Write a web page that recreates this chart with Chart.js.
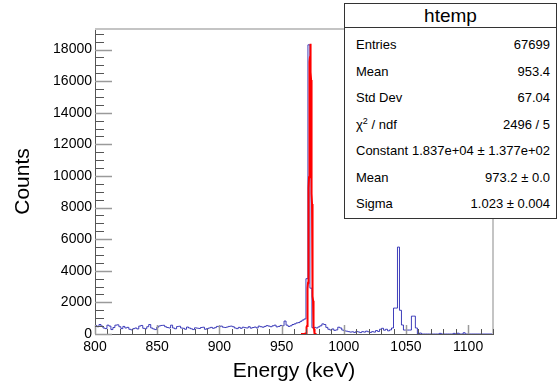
<!DOCTYPE html>
<html>
<head>
<meta charset="utf-8">
<title>htemp</title>
<script src="https://cdn.jsdelivr.net/npm/chart.js@4.4.1/dist/chart.umd.min.js"></script>
<style>
  body { margin: 0; background: #fff; }
  #wrap { position: relative; width: 558px; height: 392px; }
  #stats {
    position: absolute; left: 344px; top: 3px; width: 213px; height: 216px;
    box-sizing: border-box; border: 1px solid #333; background: #fff;
    font-family: "Liberation Sans", Arial, sans-serif; color: #000;
  }
  #stats .title {
    height: 23px; line-height: 24px; border-bottom: 1px solid #333;
    text-align: center; font-size: 19px;
  }
  #stats .rows { padding-top: 4px; }
  #stats .row {
    display: flex; justify-content: space-between;
    height: 26.5px; line-height: 26.5px; font-size: 13px;
    padding: 0 6px 0 11px;
  }
  #stats sup { font-size: 9px; line-height: 0; }
</style>
</head>
<body>
<div id="wrap">
  <canvas id="chart" width="558" height="392"></canvas>
  <div id="stats">
    <div class="title">htemp</div>
    <div class="rows">
      <div class="row"><span>Entries</span><span>67699</span></div>
      <div class="row"><span>Mean</span><span>953.4</span></div>
      <div class="row"><span>Std Dev</span><span>67.04</span></div>
      <div class="row"><span>&chi;<sup>2</sup> / ndf</span><span>2496 / 5</span></div>
      <div class="row"><span>Constant</span><span>1.837e+04 &plusmn; 1.377e+02</span></div>
      <div class="row"><span>Mean</span><span>973.2 &plusmn; 0.0</span></div>
      <div class="row"><span>Sigma</span><span>1.023 &plusmn; 0.004</span></div>
    </div>
  </div>
</div>
<script>
// histogram binning (keV): 200 bins between 800 and 1120
const binLow = 800;
const binWidth = 1.6;
const xMin = 800, xMax = 1120;
const yMax = 19300;

// counts per bin, 800 -> 1120 keV
const counts = [
  380, 540, 460, 600, 500, 380, 340, 560, 500, 280,
  410, 560, 580, 460, 340, 480, 380, 420, 300, 260,
  340, 380, 320, 500, 540, 360, 330, 460, 600, 380,
  320, 280, 430, 510, 540, 550, 460, 410, 380, 560,
  380, 330, 470, 490, 380, 360, 300, 440, 380, 330,
  280, 390, 370, 350, 410, 430, 300, 340, 380, 420,
  360, 400, 480, 460, 500, 430, 410, 440, 480, 500,
  460, 380, 340, 420, 360, 430, 400, 380, 460, 370,
  410, 440, 380, 500, 460, 430, 480, 530, 500, 460,
  520, 560, 450, 480, 540, 520, 820, 560, 480, 520,
  600, 640, 700, 720, 800, 880, 950, 3500, 18300, 2900,
  400, 420, 380, 450, 520, 640, 600, 420, 300, 250,
  320, 230, 260, 430, 380, 250, 200, 180, 150, 120,
  140, 100, 160, 130, 90, 150, 120, 180, 140, 100,
  150, 120, 220, 160, 300, 360, 240, 300, 200, 260,
  380, 1640, 1640, 5500, 1500, 570, 250, 250, 250, 250,
  1130, 1130, 380, 0, 60, 0, 0, 0, 0, 0,
  0, 0, 0, 0, 40, 0, 0, 0, 0, 0,
  0, 40, 0, 50, 0, 0, 80, 0, 0, 0,
  0, 0, 0, 0, 0, 0, 0, 0, 0, 0
];

// gaus fit result
const fitConstant = 1.837e4;
const fitMean = 973.2;
const fitSigma = 1.023;
const fitRange = [965.6, 978.4];

// axis divisions: labelled every 50 keV / 2000 counts, small ticks in between
const xTickValues = [];
for (let v = xMin; v <= xMax; v += 10) xTickValues.push(v);
const yTickValues = [];
for (let v = 0; v <= 19000; v += 500) yTickValues.push(v);

// outline of the histogram: rise from 0 at the first edge, fall back at the last
const histPoints = [{ x: binLow, y: 0 }];
counts.forEach((c, i) => histPoints.push({ x: binLow + i * binWidth, y: c }));
histPoints.push({ x: binLow + counts.length * binWidth, y: 0 });

// fitted gaussian sampled over the fit range
const fitPoints = [];
const nSamples = 200;
for (let i = 0; i <= nSamples; i++) {
  const e = fitRange[0] + (fitRange[1] - fitRange[0]) * i / nSamples;
  const d = (e - fitMean) / fitSigma;
  fitPoints.push({ x: e, y: fitConstant * Math.exp(-0.5 * d * d) });
}

// ROOT style ticks pointing into the frame, plus the light top/right frame
const frameTicks = {
  id: 'frameTicks',
  afterDatasetsDraw(chart) {
    const { ctx, chartArea: a, scales: { x, y } } = chart;
    ctx.save();
    ctx.strokeStyle = '#c4c4c4';
    ctx.lineWidth = 2;
    ctx.beginPath();
    ctx.moveTo(a.left, a.top);
    ctx.lineTo(a.right, a.top);
    ctx.lineTo(a.right, a.bottom);
    ctx.stroke();

    x.ticks.forEach(t => {
      const major = t.value % 50 === 0;
      const px = Math.round(x.getPixelForValue(t.value)) + 0.5;
      ctx.strokeStyle = major ? '#9a9a9a' : '#555';
      ctx.lineWidth = major ? 1.5 : 1;
      ctx.beginPath();
      ctx.moveTo(px, a.bottom);
      ctx.lineTo(px, a.bottom - (major ? 9 : 5));
      ctx.stroke();
    });
    y.ticks.forEach(t => {
      const major = t.value % 2000 === 0;
      const py = Math.round(y.getPixelForValue(t.value)) + 0.5;
      ctx.strokeStyle = major ? '#9a9a9a' : '#555';
      ctx.lineWidth = major ? 1.5 : 1;
      ctx.beginPath();
      ctx.moveTo(a.left, py);
      ctx.lineTo(a.left + (major ? 17 : 9), py);
      ctx.stroke();
    });
    ctx.restore();
  }
};

Chart.defaults.font.family = "'Liberation Sans', Arial, sans-serif";
Chart.defaults.color = '#000';

new Chart(document.getElementById('chart'), {
  type: 'line',
  data: {
    datasets: [
      {
        label: 'gaus',
        data: fitPoints,
        borderColor: '#ff0000',
        borderWidth: 2,
        pointRadius: 0,
        tension: 0,
        order: 0
      },
      {
        label: 'htemp',
        data: histPoints,
        stepped: 'after',
        borderColor: 'rgba(30, 30, 175, 0.85)',
        borderWidth: 1,
        pointRadius: 0,
        fill: false,
        order: 1
      }
    ]
  },
  options: {
    responsive: false,
    animation: false,
    devicePixelRatio: 1,
    layout: { padding: { left: 0, top: 29, right: 65, bottom: 0 } },
    plugins: {
      legend: { display: false },
      tooltip: { enabled: false }
    },
    scales: {
      x: {
        type: 'linear',
        min: xMin,
        max: xMax,
        afterBuildTicks(scale) { scale.ticks = xTickValues.map(v => ({ value: v })); },
        afterFit(scale) { scale.height = 58; },
        grid: { display: false, drawTicks: false },
        border: { display: true, color: '#555', width: 1 },
        ticks: {
          autoSkip: false,
          maxRotation: 0,
          padding: 5,
          font: { size: 14 },
          callback: v => (v % 50 === 0 ? String(v) : '')
        },
        title: {
          display: true,
          text: 'Energy (keV)',
          font: { size: 21 },
          padding: { top: 0, bottom: 8 }
        }
      },
      y: {
        type: 'linear',
        min: 0,
        max: yMax,
        afterBuildTicks(scale) { scale.ticks = yTickValues.map(v => ({ value: v })); },
        afterFit(scale) { scale.width = 95; },
        grid: { display: false, drawTicks: false },
        border: { display: true, color: '#555', width: 1 },
        ticks: {
          autoSkip: false,
          padding: 3,
          font: { size: 14 },
          callback: v => (v % 2000 === 0 ? String(v) : '')
        },
        title: {
          display: true,
          text: 'Counts',
          font: { size: 21 },
          padding: { top: 11, bottom: 0 }
        }
      }
    }
  },
  plugins: [frameTicks]
});
</script>
</body>
</html>
